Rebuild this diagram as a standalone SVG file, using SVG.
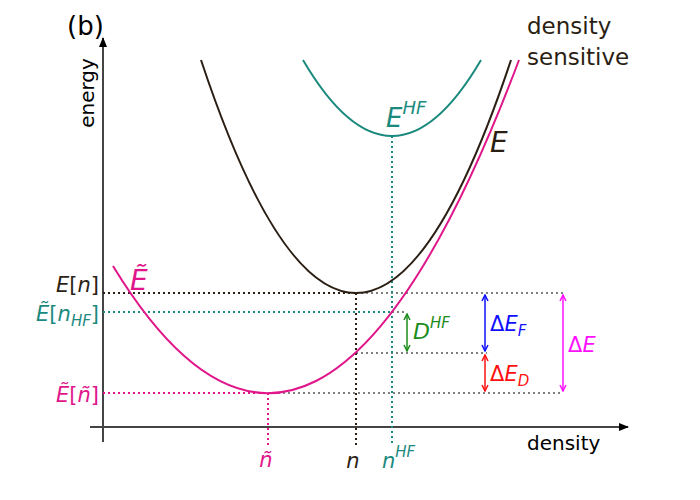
<svg xmlns="http://www.w3.org/2000/svg" width="700" height="500" viewBox="0 0 700 500">
<style>
text{font-family:"DejaVu Sans","Liberation Sans",sans-serif}
.it{font-style:italic}
.up{font-style:normal}
.dot{fill:none;stroke-width:2;stroke-dasharray:2 3}
.curve{fill:none;stroke-width:2}
.brown{fill:#2b1f14}
.teal{fill:#1b8a7e}
.mag{fill:#e0168a}
</style>
<defs>
<marker id="ax" viewBox="0 0 10 8" refX="9" refY="4" markerWidth="10" markerHeight="8" markerUnits="userSpaceOnUse" orient="auto"><path d="M0,0 L10,4 L0,8 Z" fill="#000"/></marker>
<marker id="mG" viewBox="0 0 8 8" refX="7" refY="4" markerWidth="8" markerHeight="8" markerUnits="userSpaceOnUse" orient="auto-start-reverse"><path d="M1,1 L7,4 L1,7" fill="none" stroke="#1a8c1a" stroke-width="1.5"/></marker>
<marker id="mB" viewBox="0 0 8 8" refX="7" refY="4" markerWidth="8" markerHeight="8" markerUnits="userSpaceOnUse" orient="auto-start-reverse"><path d="M1,1 L7,4 L1,7" fill="none" stroke="#1010ff" stroke-width="1.5"/></marker>
<marker id="mR" viewBox="0 0 8 8" refX="7" refY="4" markerWidth="8" markerHeight="8" markerUnits="userSpaceOnUse" orient="auto-start-reverse"><path d="M1,1 L7,4 L1,7" fill="none" stroke="#ff1010" stroke-width="1.5"/></marker>
<marker id="mM" viewBox="0 0 8 8" refX="7" refY="4" markerWidth="8" markerHeight="8" markerUnits="userSpaceOnUse" orient="auto-start-reverse"><path d="M1,1 L7,4 L1,7" fill="none" stroke="#ff10ff" stroke-width="1.5"/></marker>
</defs>

<g id="axes">
<line x1="103" y1="442" x2="103" y2="38" stroke="#444" stroke-width="2" marker-end="url(#ax)"/>
<line x1="90" y1="427" x2="628" y2="427" stroke="#444" stroke-width="2" marker-end="url(#ax)"/>
<text x="67" y="35" font-size="26" fill="#000">(b)</text>
<text transform="translate(94,93) rotate(-90)" text-anchor="middle" font-size="20" fill="#000">energy</text>
<text x="527" y="450" font-size="20" fill="#000">density</text>
<text x="527" y="34" font-size="23" class="brown">density</text>
<text x="527" y="65" font-size="23" class="brown">sensitive</text>
</g>

<g id="connectors">
<g id="guides">
<line class="dot" x1="103" y1="293" x2="356" y2="293" stroke="#2b1f14"/>
<line class="dot" x1="356" y1="293" x2="563" y2="293" stroke="#808080"/>
<line class="dot" x1="103" y1="312" x2="392" y2="312" stroke="#1b8a7e"/>
<line class="dot" x1="392" y1="312" x2="405" y2="312" stroke="#808080"/>
<line class="dot" x1="356" y1="353" x2="487" y2="353" stroke="#808080"/>
<line class="dot" x1="103" y1="393" x2="268" y2="393" stroke="#e0168a"/>
<line class="dot" x1="268" y1="393" x2="563" y2="393" stroke="#808080"/>
<line class="dot" x1="356" y1="293" x2="356" y2="445" stroke="#2b1f14"/>
<line class="dot" x1="392" y1="136" x2="392" y2="445" stroke="#1b8a7e"/>
<line class="dot" x1="268" y1="393" x2="268" y2="445" stroke="#e0168a"/>
</g>
<line x1="407" y1="314" x2="407" y2="351" stroke="#1a8c1a" stroke-width="1.5" marker-start="url(#mG)" marker-end="url(#mG)"/>
<line x1="485" y1="295" x2="485" y2="351" stroke="#1010ff" stroke-width="1.5" marker-start="url(#mB)" marker-end="url(#mB)"/>
<line x1="485" y1="355" x2="485" y2="391" stroke="#ff1010" stroke-width="1.5" marker-start="url(#mR)" marker-end="url(#mR)"/>
<line x1="563" y1="295" x2="563" y2="391" stroke="#ff10ff" stroke-width="1.5" marker-start="url(#mM)" marker-end="url(#mM)"/>
</g>

<g id="curve-E">
<path class="curve" d="M201,60 Q356,526 511,60" stroke="#2b1f14"/>
<text x="490" y="152" font-size="28" class="it brown">E</text>
</g>
<g id="curve-EHF">
<path class="curve" d="M303,60 Q392,212 481,60" stroke="#1b8a7e"/>
<text x="386" y="127" font-size="26" class="it teal">E<tspan dy="-13" font-size="18">HF</tspan></text>
</g>
<g id="curve-Etilde">
<path class="curve" d="M113,266 Q316,599 519,60" stroke="#e0168a"/>
<text x="130" y="290" font-size="28" class="it mag">Ẽ</text>
</g>

<g id="y-labels">
<text x="99" y="292" font-size="21" text-anchor="end" class="it brown">E<tspan class="up">[</tspan>n<tspan class="up">]</tspan></text>
<text x="99" y="321" font-size="21" text-anchor="end" class="it teal">Ẽ<tspan class="up">[</tspan>n<tspan dy="5" font-size="15">HF</tspan><tspan dy="-5" class="up">]</tspan></text>
<text x="99" y="402" font-size="21" text-anchor="end" class="it mag">Ẽ<tspan class="up">[</tspan>ñ<tspan class="up">]</tspan></text>
</g>
<g id="x-labels">
<text x="266" y="467" font-size="21" text-anchor="middle" class="it mag">ñ</text>
<text x="353" y="468" font-size="21" text-anchor="middle" class="it brown">n</text>
<text x="382" y="468" font-size="21" class="it teal">n<tspan dy="-11" font-size="15">HF</tspan></text>
</g>
<g id="delta-labels">
<text x="413" y="339" font-size="22" class="it" fill="#1a8c1a">D<tspan dy="-11" font-size="15">HF</tspan></text>
<text x="490" y="331" font-size="21" class="it" fill="#1010ff"><tspan class="up">Δ</tspan>E<tspan dy="5" font-size="15">F</tspan></text>
<text x="490" y="381" font-size="21" class="it" fill="#ff1010"><tspan class="up">Δ</tspan>E<tspan dy="5" font-size="15">D</tspan></text>
<text x="568" y="352" font-size="21" class="it" fill="#ff10ff"><tspan class="up">Δ</tspan>E</text>
</g>
</svg>
